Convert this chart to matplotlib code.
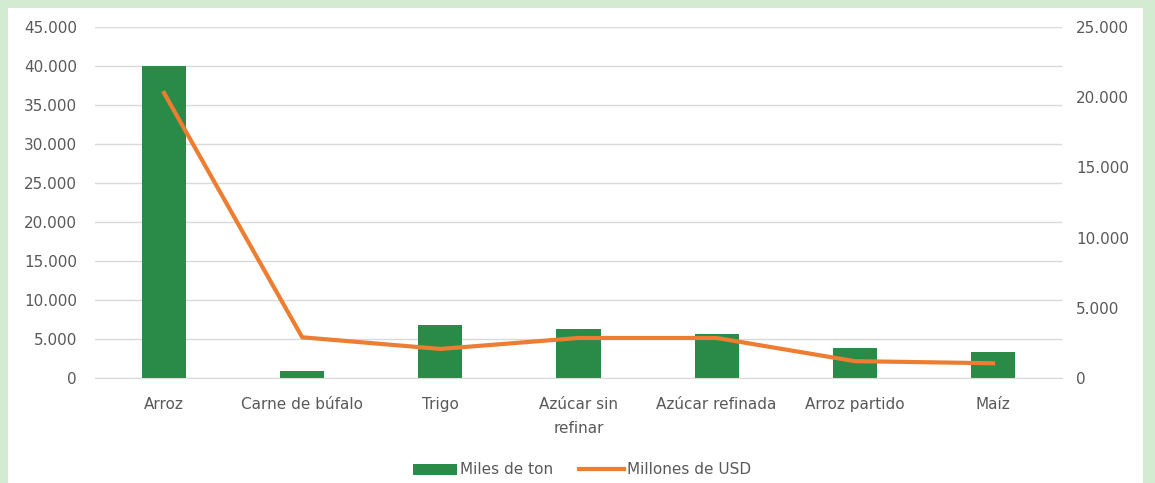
import numpy as np
import matplotlib
matplotlib.use("Agg")
import matplotlib.pyplot as plt
from matplotlib import ticker
from matplotlib.patches import Rectangle

categorias = ["Arroz", "Carne de búfalo", "Trigo", "Azúcar sin\nrefinar",
              "Azúcar refinada", "Arroz partido", "Maíz"]
miles_ton = [40000, 900, 6800, 6300, 5650, 3850, 3350]
millones_usd = [20300, 2900, 2070, 2850, 2850, 1200, 1050]

plt.rcParams["font.family"] = ["DejaVu Sans"]
gris = "#595959"
verde = "#2a8a48"
naranja = "#ed7d31"
fs = 11

fig = plt.figure(figsize=(11.55, 4.83), dpi=100, facecolor="#d3ebd1")
W, H = 1155, 483
fig.patches.append(Rectangle((8 / W, 0), (1143 - 8) / W, (H - 8) / H,
                             transform=fig.transFigure, facecolor="white",
                             edgecolor="none", zorder=-10))

ax = fig.add_axes([95 / W, (H - 378) / H, (1062 - 95) / W, (378 - 27) / H])
ax.set_facecolor("none")
x = np.arange(len(categorias))

ax.bar(x, miles_ton, width=0.32, color=verde, label="Miles de ton", zorder=2)
ax.set_xlim(-0.5, len(categorias) - 0.5)
ax.set_ylim(0, 45000)
ax.yaxis.set_major_locator(ticker.MultipleLocator(5000))
fmt = ticker.FuncFormatter(lambda v, p: f"{int(v):,}".replace(",", "."))
ax.yaxis.set_major_formatter(fmt)
ax.grid(axis="y", color="#d9d9d9", linewidth=1, zorder=0)
for s in ["top", "right", "left"]:
    ax.spines[s].set_visible(False)
ax.spines["bottom"].set_color("#d9d9d9")
ax.tick_params(length=0, colors=gris, labelsize=fs)
ax.tick_params(axis="y", pad=13)
ax.tick_params(axis="x", pad=14)
ax.set_xticks(x)
ax.set_xticklabels(categorias, linespacing=1.7)

ax2 = ax.twinx()
ax2.plot(x, millones_usd, color=naranja, linewidth=3, label="Millones de USD",
         zorder=3, solid_joinstyle="round")
ax2.set_ylim(0, 25000)
ax2.yaxis.set_major_locator(ticker.MultipleLocator(5000))
ax2.yaxis.set_major_formatter(fmt)
for s in ["top", "right", "left", "bottom"]:
    ax2.spines[s].set_visible(False)
ax2.tick_params(length=0, colors=gris, labelsize=fs, pad=10)

h1, l1 = ax.get_legend_handles_labels()
h2, l2 = ax2.get_legend_handles_labels()
fig.legend(h1 + h2, l1 + l2, loc="center", bbox_to_anchor=(582 / W, (H - 470) / H),
           ncol=2, frameon=False, fontsize=fs, labelcolor=gris,
           handlelength=2.9, handletextpad=0.2, columnspacing=1.7)

fig.savefig("out.png", dpi=100, facecolor=fig.get_facecolor())
